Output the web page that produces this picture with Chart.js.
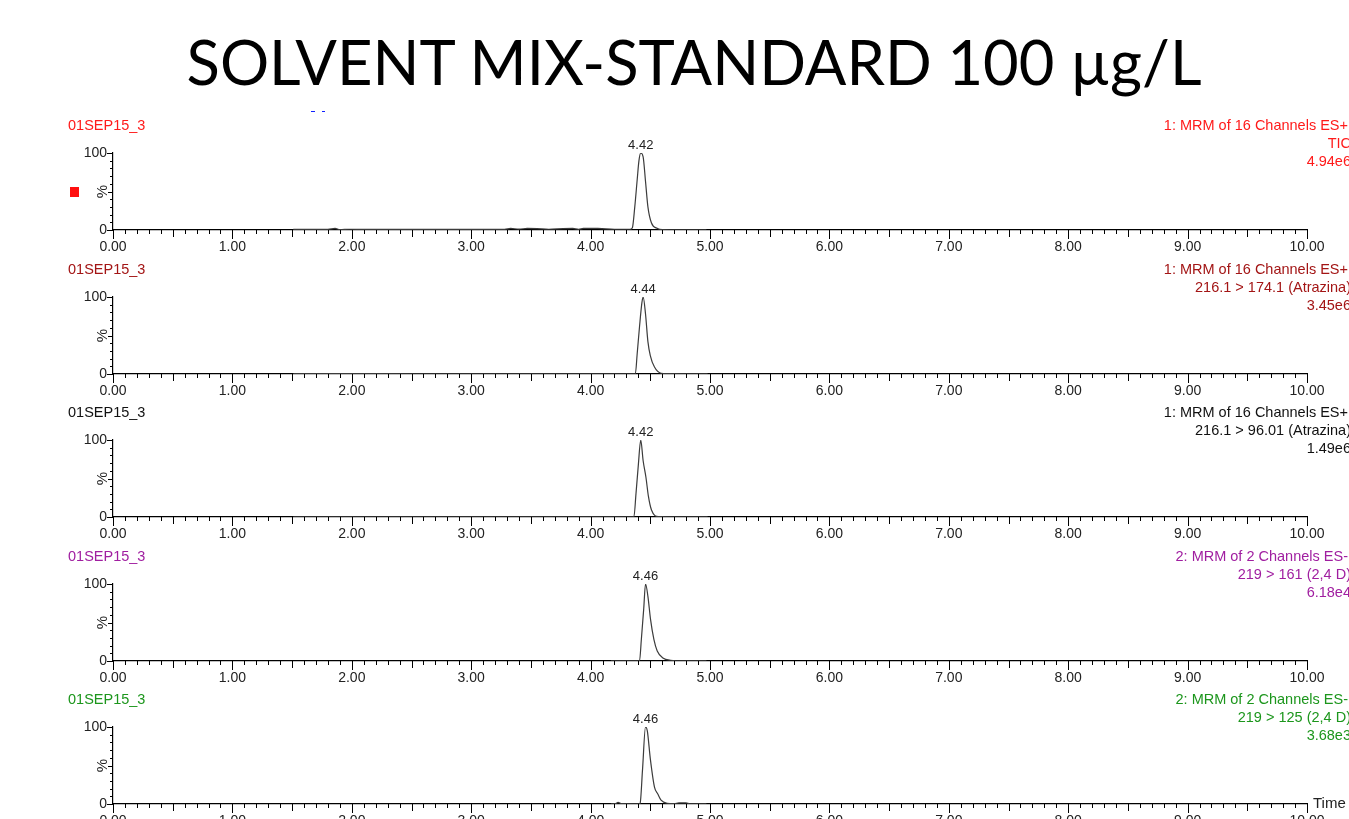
<!DOCTYPE html>
<html>
<head>
<meta charset="utf-8">
<title>SOLVENT MIX-STANDARD 100 µg/L</title>
<script src="https://cdn.jsdelivr.net/npm/chart.js@4.4.1/dist/chart.umd.min.js"></script>
<style>
  html, body { margin: 0; padding: 0; background: #fff; }
  body { width: 1349px; height: 819px; overflow: hidden; position: relative; font-family: "Liberation Sans", Arial, sans-serif; }
  #title { position: absolute; left: 0; width: 1388px; top: 24px; text-align: center; font-family: Lato, "Open Sans", sans-serif; font-size: 61.5px; color: #000; white-space: nowrap; }
  .panel { position: absolute; left: 0; width: 1349px; height: 129px; }
  .run { position: absolute; left: 68px; font-size: 14.5px; line-height: 18px; white-space: nowrap; }
  .info { position: absolute; right: -2px; text-align: right; font-size: 14.5px; line-height: 18px; white-space: nowrap; }
  .info div:first-child { margin-right: 3px; }
  #marker { position: absolute; left: 70px; top: 187px; width: 9px; height: 10px; background: #ff1010; }
  .dash { position: absolute; top: 111px; height: 1px; background: #1020ff; }
</style>
</head>
<body>
<div id="title">SOLVENT MIX-STANDARD 100 µg/L</div>
<div id="marker"></div>
<div class="dash" style="left:311px;width:4px"></div>
<div class="dash" style="left:322px;width:3px"></div>

<script>
// retention time (min) and relative intensity (%) for each trace
const ticTime = [1.51, 1.60, 1.70, 1.80, 1.86, 1.90, 1.98, 2.10, 2.50, 2.90, 3.28, 3.33, 3.40, 3.47, 3.55, 3.65, 3.77, 3.85, 3.90, 3.94, 4.06, 4.20, 4.33, 4.35, 4.37, 4.39, 4.405, 4.42, 4.44, 4.46, 4.48, 4.51, 4.56, 4.60, 4.70, 4.80, 4.97];
const ticPct  = [0.8, 0.8, 0.9, 0.8, 2, 0.5, 1, 0.8, 0.8, 0.8, 0.8, 2, 1.2, 2, 1.8, 1, 1.8, 2, 0.8, 2, 2, 1, 1, 3, 30, 65, 90, 100, 95, 63, 30, 9, 2, 0.5, 0.3, 0.3, 0.3];

const atr174Time = [1.51, 2.0, 2.5, 3.0, 3.5, 4.0, 4.375, 4.39, 4.41, 4.43, 4.44, 4.46, 4.48, 4.50, 4.535, 4.59, 4.65, 4.80, 4.98];
const atr174Pct  = [0.4, 0.4, 0.3, 0.3, 0.3, 0.3, 0.5, 26, 62, 93, 100, 78, 42, 24, 9, 1, 0.4, 0.3, 0.3];

const atr96Time = [1.51, 2.0, 2.5, 3.0, 3.5, 4.0, 4.363, 4.38, 4.40, 4.42, 4.44, 4.464, 4.484, 4.51, 4.567, 4.65, 4.80, 4.98];
const atr96Pct  = [0.3, 0.3, 0.3, 0.3, 0.3, 0.3, 0.5, 30, 68, 100, 73, 51, 27, 9, 0.5, 0.3, 0.3, 0.3];

const d161Time = [4.17, 4.30, 4.41, 4.425, 4.445, 4.46, 4.48, 4.502, 4.53, 4.558, 4.605, 4.67, 4.78, 4.97];
const d161Pct  = [0.3, 0.3, 0.5, 28, 68, 100, 84, 54, 28, 13, 4, 1, 0.3, 0.3];

const d125Time = [4.17, 4.21, 4.23, 4.26, 4.41, 4.415, 4.435, 4.46, 4.475, 4.50, 4.535, 4.563, 4.59, 4.64, 4.70, 4.74, 4.80, 4.83, 4.97];
const d125Pct  = [0.3, 0.5, 2, 0.5, 0.3, 1, 45, 100, 95, 59, 22, 13, 5, 1, 0.5, 1.5, 1.5, 0.3, 0.3];

const peakTimes = [4.42, 4.44, 4.42, 4.46, 4.46];
const runNames = ["01SEP15_3", "01SEP15_3", "01SEP15_3", "01SEP15_3", "01SEP15_3"];
const functionLines = ["1: MRM of 16 Channels ES+", "1: MRM of 16 Channels ES+", "1: MRM of 16 Channels ES+", "2: MRM of 2 Channels ES-", "2: MRM of 2 Channels ES-"];
const transitions = ["TIC", "216.1 > 174.1 (Atrazina)", "216.1 > 96.01 (Atrazina)", "219 > 161 (2,4 D)", "219 > 125 (2,4 D)"];
const maxCounts = ["4.94e6", "3.45e6", "1.49e6", "6.18e4", "3.68e3"];
const xTicks = [0, 1, 2, 3, 4, 5, 6, 7, 8, 9, 10];

const traces = [
  [ticTime, ticPct],
  [atr174Time, atr174Pct],
  [atr96Time, atr96Pct],
  [d161Time, d161Pct],
  [d125Time, d125Pct]
];
const headColors = ["#ff1a1a", "#a31515", "#111111", "#a01ea0", "#1c961c"];

const TOP_PAD = 24;
const AXIS_FONT = { family: "'Liberation Sans', Arial, sans-serif", size: 14 };

// minor ticks, % label, apex label and the Time label
const chromPlugin = {
  id: "chrom",
  afterDraw(chart, args, opts) {
    const ctx = chart.ctx;
    const xs = chart.scales.x, ys = chart.scales.y;
    const area = chart.chartArea;
    ctx.save();
    ctx.strokeStyle = "#000";
    ctx.lineWidth = 1;
    ctx.beginPath();
    for (let k = 0; k <= 100; k++) {
      const px = Math.round(xs.getPixelForValue(k / 10)) + 0.5;
      const len = k % 10 === 0 ? 9 : (k % 5 === 0 ? 7 : 4);
      ctx.moveTo(px, area.bottom);
      ctx.lineTo(px, area.bottom + len);
    }
    for (let k = 0; k <= 10; k++) {
      const py = Math.round(ys.getPixelForValue(k * 10)) + 0.5;
      const len = (k === 0 || k === 10) ? 6 : (k === 5 ? 5 : 3);
      ctx.moveTo(area.left, py);
      ctx.lineTo(area.left - len, py);
    }
    ctx.stroke();

    ctx.fillStyle = "#222";
    ctx.font = "15px 'Liberation Sans', Arial, sans-serif";
    ctx.save();
    ctx.translate(area.left - 10, (area.top + area.bottom) / 2);
    ctx.rotate(-Math.PI / 2);
    ctx.textAlign = "center";
    ctx.textBaseline = "middle";
    ctx.fillText("%", 0, 0);
    ctx.restore();

    ctx.font = "13px 'Liberation Sans', Arial, sans-serif";
    ctx.textAlign = "center";
    ctx.textBaseline = "bottom";
    ctx.fillText(opts.peak.toFixed(2), xs.getPixelForValue(opts.peak), ys.getPixelForValue(100) - 1);

    if (opts.last) {
      ctx.font = "15px 'Liberation Sans', Arial, sans-serif";
      ctx.textAlign = "left";
      ctx.textBaseline = "middle";
      ctx.fillText("Time", area.right + 6, area.bottom);
    }
    ctx.restore();
  }
};

traces.forEach(([times, pcts], i) => {
  const y100 = 153 + i * 143.5;
  const top = y100 - TOP_PAD;

  const panel = document.createElement("div");
  panel.className = "panel";
  panel.style.top = top + "px";
  panel.innerHTML = '<canvas width="1349" height="129"></canvas>';
  document.body.appendChild(panel);

  const run = document.createElement("div");
  run.className = "run";
  run.style.top = (y100 - 37) + "px";
  run.style.color = headColors[i];
  run.textContent = runNames[i];
  document.body.appendChild(run);

  const info = document.createElement("div");
  info.className = "info";
  info.style.top = (y100 - 37) + "px";
  info.style.color = headColors[i];
  info.innerHTML = "<div></div><div></div><div></div>";
  info.children[0].textContent = functionLines[i];
  info.children[1].textContent = transitions[i];
  info.children[2].textContent = maxCounts[i];
  document.body.appendChild(info);

  new Chart(panel.querySelector("canvas"), {
    type: "line",
    data: {
      datasets: [{
        data: times.map((t, j) => ({ x: t, y: pcts[j] })),
        borderColor: "#3c3c3c",
        borderWidth: 1.2,
        pointRadius: 0,
        cubicInterpolationMode: "monotone",
        fill: false
      }]
    },
    options: {
      responsive: false,
      animation: false,
      events: [],
      layout: { padding: { top: TOP_PAD, right: 42, left: 0, bottom: 0 } },
      plugins: {
        legend: { display: false },
        tooltip: { enabled: false },
        chrom: { peak: peakTimes[i], last: i === traces.length - 1 }
      },
      scales: {
        x: {
          type: "linear",
          min: 0,
          max: 10,
          afterBuildTicks: s => { s.ticks = xTicks.map(v => ({ value: v })); },
          afterFit: s => { s.height = 129 - TOP_PAD - 77; },
          ticks: {
            color: "#222",
            font: AXIS_FONT,
            padding: 9,
            maxRotation: 0,
            autoSkip: false,
            callback: v => v.toFixed(2)
          },
          grid: { display: false, drawTicks: false },
          border: { display: true, color: "#000", width: 1.2 }
        },
        y: {
          min: 0,
          max: 100,
          afterBuildTicks: s => { s.ticks = [{ value: 0 }, { value: 100 }]; },
          afterFit: s => { s.width = 113; },
          ticks: { color: "#222", font: AXIS_FONT, padding: 6 },
          grid: { display: false, drawTicks: false },
          border: { display: true, color: "#000", width: 1.2 }
        }
      }
    },
    plugins: [chromPlugin]
  });
});
</script>
</body>
</html>
